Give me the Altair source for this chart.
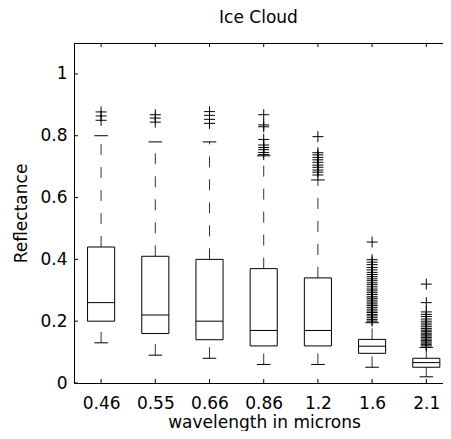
import altair as alt
import pandas as pd

# ---- data ----
categories = ["0.46", "0.55", "0.66", "0.86", "1.2", "1.6", "2.1"]
lower_whisker = [0.13, 0.09, 0.08, 0.06, 0.06, 0.051, 0.02]
q1 = [0.20, 0.16, 0.14, 0.12, 0.12, 0.096, 0.051]
median = [0.26, 0.22, 0.20, 0.17, 0.17, 0.119, 0.066]
q3 = [0.44, 0.41, 0.40, 0.37, 0.34, 0.141, 0.080]
upper_whisker = [0.80, 0.78, 0.78, 0.735, 0.657, 0.195, 0.115]

outliers_046 = [0.850, 0.864, 0.877]
outliers_055 = [0.844, 0.857, 0.868]
outliers_066 = [0.840, 0.853, 0.866, 0.878]
outliers_086 = [0.739, 0.746, 0.755, 0.762, 0.770, 0.788, 0.829, 0.835, 0.868]
outliers_12 = [0.673, 0.682, 0.689, 0.698, 0.705, 0.714, 0.722, 0.730, 0.738,
               0.745, 0.797]
outliers_16 = [0.200, 0.205, 0.211, 0.217, 0.222, 0.228, 0.233, 0.239, 0.245,
               0.251, 0.256, 0.262, 0.268, 0.274, 0.279, 0.286, 0.292, 0.298,
               0.304, 0.311, 0.318, 0.324, 0.331, 0.337, 0.344, 0.351, 0.358,
               0.366, 0.374, 0.383, 0.391, 0.399, 0.456]
outliers_21 = [0.120, 0.124, 0.129, 0.133, 0.138, 0.142, 0.147, 0.152, 0.156,
               0.161, 0.166, 0.171, 0.176, 0.182, 0.188, 0.194, 0.200, 0.207,
               0.215, 0.222, 0.230, 0.260, 0.320]
outliers = [outliers_046, outliers_055, outliers_066, outliers_086,
            outliers_12, outliers_16, outliers_21]

y_ticks = [0, 0.2, 0.4, 0.6, 0.8, 1.0]
title_text = "Ice Cloud"
x_title = "wavelength in microns"
y_title = "Reflectance"

# ---- tables ----
idx = list(range(1, len(categories) + 1))
box_df = pd.DataFrame({"i": idx, "cat": categories, "lw": lower_whisker,
                       "q1": q1, "med": median, "q3": q3, "uw": upper_whisker})
out_df = pd.DataFrame([{"i": i, "v": v} for i, vals in zip(idx, outliers) for v in vals])
ytick_df = pd.DataFrame({"t": y_ticks})

# ---- layout / style ----
W, H = 369, 340
FONT = "DejaVu Sans"
FS = 17
xs = alt.Scale(domain=[0.5, 7.308], nice=False, zero=False)
ys = alt.Scale(domain=[0, 1.1], nice=False, zero=False)

label_expr = "[" + ",".join("'%s'" % c for c in categories) + "][datum.value - 1]"
x_axis = alt.Axis(values=idx, labelExpr=label_expr, title=x_title, grid=False,
                  ticks=False, tickSize=0, labelPadding=25, labelBaseline="alphabetic",
                  titleX=190, titleY=44, titleBaseline="alphabetic")
y_axis = alt.Axis(values=y_ticks, format="~g", title=y_title, grid=False,
                  ticks=False, tickSize=0, labelPadding=7,
                  titleX=-48, titleY=H / 2, titleAngle=270, titleBaseline="alphabetic")


def X(f):
    return alt.X(f, type="quantitative", scale=xs, axis=x_axis)


def Y(f):
    return alt.Y(f, type="quantitative", scale=ys, axis=y_axis)


base = alt.Chart(box_df)

upper_wh = base.mark_rule(color="#333333", strokeWidth=1, strokeDash=[11, 12]).encode(
    x=X("i"), y=Y("q3"), y2="uw")
lower_wh = base.mark_rule(color="#333333", strokeWidth=1, strokeDash=[11, 12]).encode(
    x=X("i"), y=Y("lw"), y2="q1")

caps_hi = base.transform_calculate(a="datum.i - 0.125", b="datum.i + 0.125").mark_rule(
    color="black", strokeWidth=1).encode(x=X("a:Q"), x2="b:Q", y=Y("uw"))
caps_lo = base.transform_calculate(a="datum.i - 0.125", b="datum.i + 0.125").mark_rule(
    color="black", strokeWidth=1).encode(x=X("a:Q"), x2="b:Q", y=Y("lw"))

boxes = base.transform_calculate(a="datum.i - 0.25", b="datum.i + 0.25").mark_rect(
    fill="white", fillOpacity=0, stroke="black", strokeWidth=1).encode(
    x=X("a:Q"), x2="b:Q", y=Y("q1"), y2="q3")
medians = base.transform_calculate(a="datum.i - 0.25", b="datum.i + 0.25").mark_rule(
    color="black", strokeWidth=1).encode(x=X("a:Q"), x2="b:Q", y=Y("med"))

plus = alt.Chart(out_df).mark_point(
    shape="M-1,0L1,0M0,-1L0,1", size=121, filled=False, stroke="black",
    strokeWidth=1, opacity=1).encode(x=X("i"), y=Y("v"))

# inward ticks and top frame line
yt = alt.Chart(ytick_df).mark_rule(color="black", strokeWidth=1).encode(
    y=Y("t"), x=alt.value(0), x2=alt.value(4))
xt_bot = base.mark_rule(color="black", strokeWidth=1).encode(
    x=X("i"), y=alt.value(H), y2=alt.value(H - 4))
xt_top = base.mark_rule(color="black", strokeWidth=1).encode(
    x=X("i"), y=alt.value(0), y2=alt.value(4))
top_line = alt.Chart(ytick_df).mark_rule(color="black", strokeWidth=1).encode(
    x=alt.value(0), x2=alt.value(W), y=alt.value(0.5))

chart = alt.layer(
    upper_wh, lower_wh, caps_hi, caps_lo, boxes, medians, plus,
    yt, xt_bot, xt_top, top_line
).properties(
    width=W, height=H,
    title=alt.TitleParams(title_text, font=FONT, fontSize=FS, fontWeight="normal",
                          color="black", offset=16, dy=13, baseline="alphabetic",
                          anchor="middle", frame="group"),
    autosize=alt.AutoSizeParams(type="none"),
    padding={"left": 66, "top": 35, "right": 0, "bottom": 48},
).configure_view(stroke=None).configure_axis(
    labelFont=FONT, labelFontSize=FS, labelColor="black",
    titleFont=FONT, titleFontSize=FS, titleFontWeight="normal", titleColor="black",
    domainColor="black", domainWidth=1,
)

chart.save("out.html", embed_options={"renderer": "svg", "actions": False})
